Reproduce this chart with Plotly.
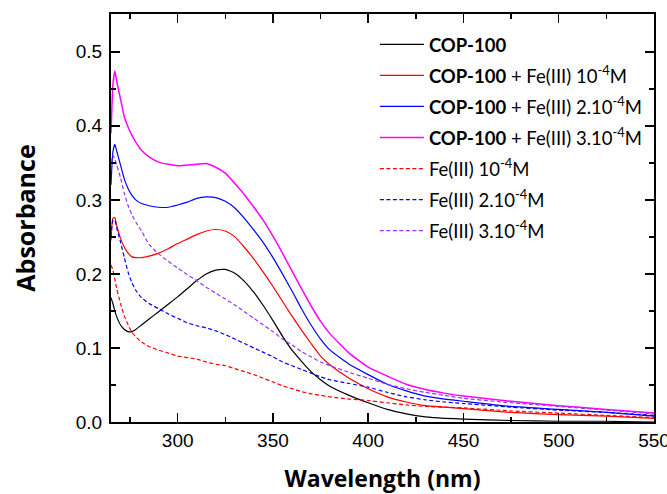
import plotly.graph_objects as go

wavelength = [265, 266, 267, 268, 270, 272, 274, 276, 278, 281, 285, 290, 295, 300, 305, 310, 315,
              320, 325, 330, 335, 340, 345, 350, 355, 360, 365, 370, 375, 380, 390, 400, 410, 420,
              430, 440, 450, 475, 500, 525, 550]

cop100 = [0.168, 0.160, 0.150, 0.142, 0.131, 0.125, 0.122, 0.122, 0.125, 0.131, 0.139, 0.149, 0.159,
          0.169, 0.180, 0.191, 0.200, 0.205, 0.206, 0.201, 0.190, 0.175, 0.157, 0.137, 0.116, 0.097,
          0.082, 0.068, 0.057, 0.048, 0.036, 0.026, 0.017, 0.011, 0.007, 0.005, 0.004, 0.002, 0.001,
          0.001, 0.000]

cop_fe1 = [0.245, 0.275, 0.276, 0.265, 0.248, 0.236, 0.228, 0.223, 0.222, 0.222, 0.224, 0.228, 0.234,
           0.241, 0.247, 0.253, 0.258, 0.260, 0.258, 0.250, 0.236, 0.220, 0.202, 0.183, 0.163, 0.143,
           0.124, 0.106, 0.089, 0.077, 0.059, 0.045, 0.034, 0.027, 0.022, 0.020, 0.018, 0.013, 0.010,
           0.008, 0.005]

cop_fe2 = [0.320, 0.365, 0.375, 0.366, 0.347, 0.328, 0.315, 0.306, 0.300, 0.295, 0.292, 0.290, 0.290,
           0.293, 0.297, 0.302, 0.304, 0.303, 0.298, 0.289, 0.275, 0.259, 0.242, 0.222, 0.200, 0.177,
           0.153, 0.131, 0.112, 0.097, 0.078, 0.064, 0.051, 0.042, 0.035, 0.031, 0.028, 0.021, 0.017,
           0.013, 0.008]

cop_fe3 = [0.390, 0.455, 0.474, 0.460, 0.436, 0.412, 0.398, 0.387, 0.378, 0.367, 0.358, 0.351, 0.348,
           0.346, 0.347, 0.348, 0.349, 0.344, 0.336, 0.322, 0.307, 0.290, 0.272, 0.251, 0.228, 0.204,
           0.180, 0.157, 0.136, 0.119, 0.093, 0.074, 0.062, 0.051, 0.044, 0.039, 0.035, 0.028, 0.022,
           0.017, 0.012]

fe1 = [0.212, 0.205, 0.193, 0.180, 0.160, 0.143, 0.131, 0.121, 0.115, 0.108, 0.102, 0.097, 0.093,
       0.089, 0.087, 0.085, 0.081, 0.078, 0.076, 0.072, 0.068, 0.064, 0.059, 0.054, 0.049, 0.045,
       0.041, 0.038, 0.036, 0.034, 0.031, 0.029, 0.026, 0.023, 0.021, 0.020, 0.019, 0.015, 0.012,
       0.009, 0.006]

fe2 = [0.250, 0.272, 0.273, 0.262, 0.243, 0.222, 0.202, 0.188, 0.178, 0.168, 0.160, 0.153, 0.146,
       0.140, 0.134, 0.130, 0.127, 0.123, 0.118, 0.112, 0.106, 0.100, 0.094, 0.088, 0.081, 0.076,
       0.071, 0.066, 0.061, 0.057, 0.052, 0.047, 0.040, 0.034, 0.030, 0.027, 0.025, 0.020, 0.016,
       0.013, 0.009]

fe3 = [0.350, 0.360, 0.355, 0.347, 0.330, 0.309, 0.292, 0.280, 0.270, 0.258, 0.240, 0.227, 0.217,
       0.208, 0.199, 0.191, 0.182, 0.174, 0.166, 0.158, 0.149, 0.140, 0.131, 0.122, 0.112, 0.104,
       0.095, 0.088, 0.081, 0.076, 0.067, 0.059, 0.051, 0.045, 0.040, 0.036, 0.032, 0.026, 0.021,
       0.016, 0.011]

series_names = [
    "<b>COP-100</b>",
    "<b>COP-100</b> + Fe(III) 10<sup>-4</sup>M",
    "<b>COP-100</b> + Fe(III) 2.10<sup>-4</sup>M",
    "<b>COP-100</b> + Fe(III) 3.10<sup>-4</sup>M",
    "Fe(III) 10<sup>-4</sup>M",
    "Fe(III) 2.10<sup>-4</sup>M",
    "Fe(III) 3.10<sup>-4</sup>M",
]
series_values = [cop100, cop_fe1, cop_fe2, cop_fe3, fe1, fe2, fe3]
series_colors = ["#000000", "#FF0000", "#0000FF", "#FF00FF", "#FF0000", "#0000FF", "#9933FF"]
series_widths = [1.2, 1.2, 1.2, 1.5, 1.2, 1.2, 1.2]
series_dash = ["solid", "solid", "solid", "solid", "4px,2.5px", "4px,2.5px", "4px,2.5px"]

x_ticks = [300, 350, 400, 450, 500, 550]
y_ticks = [0.0, 0.1, 0.2, 0.3, 0.4, 0.5]

fig = go.Figure()
for i, (name, vals, col, w, dash) in enumerate(zip(series_names, series_values, series_colors,
                                                   series_widths, series_dash)):
    fig.add_trace(go.Scatter(
        x=wavelength, y=vals, mode="lines", name=name,
        line=dict(color=col, width=w, dash=dash, shape="spline", smoothing=0.5),
        legendgroup=f"g{i}",
    ))

axis_common = dict(
    showline=True, linewidth=2, linecolor="black", mirror="allticks",
    ticks="inside", tickwidth=1.5, tickcolor="black", ticklen=9,
    showgrid=False, zeroline=False, automargin=False, ticklabeloverflow="allow",
    tickfont=dict(family="Liberation Sans, Arial", size=19, color="black"),
)

fig.update_xaxes(
    range=[265, 550], tickvals=x_ticks, ticktext=[str(v) for v in x_ticks],
    minor=dict(dtick=25, tick0=275, ticks="inside", ticklen=5, tickwidth=1.5, tickcolor="black", showgrid=False),
    title=dict(text="<b>Wavelength (nm)</b>", font=dict(family="Open Sans", size=23, color="black"), standoff=29),
    **axis_common,
)
fig.update_yaxes(
    range=[0, 0.551], tickvals=y_ticks, ticktext=[f"{v:.1f}" for v in y_ticks],
    minor=dict(dtick=0.05, tick0=0, ticks="inside", ticklen=5, tickwidth=1.5, tickcolor="black", showgrid=False),
    title=dict(text="<b>Absorbance</b>", font=dict(family="Open Sans", size=25, color="black"), standoff=33),
    ticklabelstandoff=3,
    **axis_common,
)

fig.update_layout(
    width=667, height=494,
    margin=dict(l=111, r=13, t=14, b=72),
    paper_bgcolor="white", plot_bgcolor="white",
    hovermode=False,
    showlegend=True,
    legend=dict(
        x=0.486, y=0.971, xanchor="left", yanchor="top",
        font=dict(family="Lato", size=18.5, color="black"),
        bgcolor="rgba(0,0,0,0)", borderwidth=0,
        tracegroupgap=4, itemwidth=44,
    ),
)

fig.write_html("out.html", config={"displayModeBar": False, "staticPlot": True},
               post_script="document.body.style.margin='0';")
